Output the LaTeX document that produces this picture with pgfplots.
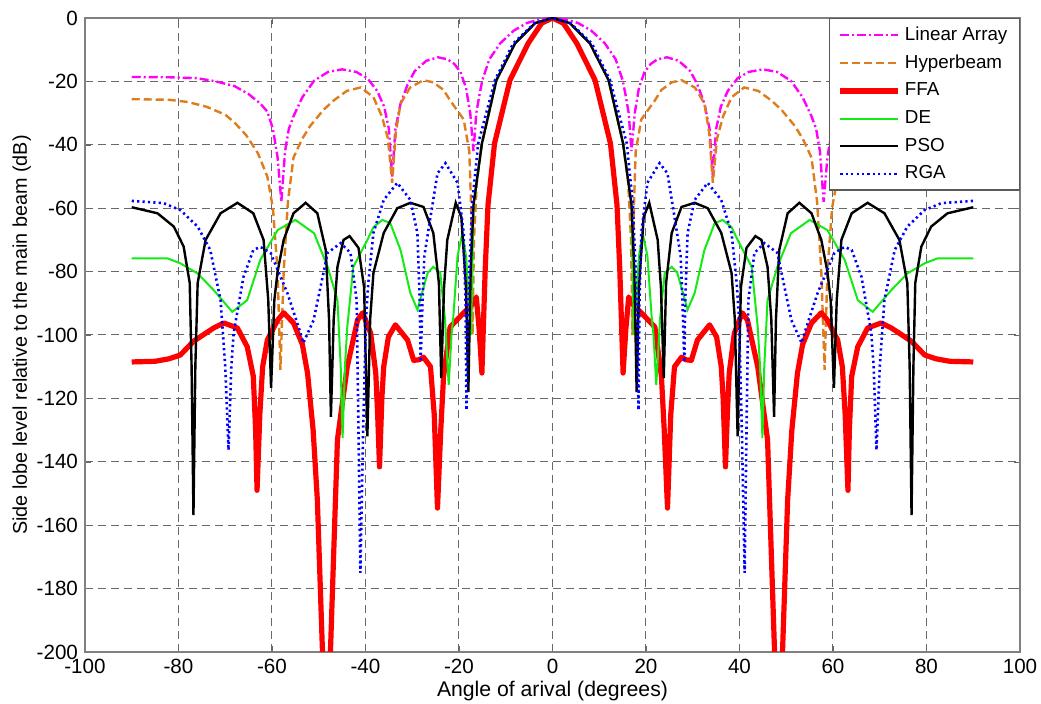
\documentclass[border=0pt]{standalone}
\usepackage{fontspec}
\setmainfont{Liberation Sans}
\usepackage{pgfplots}
\pgfplotsset{compat=1.18}
\definecolor{lamag}{RGB}{255,0,255}
\definecolor{hborange}{RGB}{222,125,30}
\definecolor{ffared}{RGB}{255,0,0}
\definecolor{degreen}{RGB}{20,235,20}
\definecolor{rgablue}{RGB}{0,0,255}
\definecolor{gridgray}{RGB}{105,105,105}

\begin{document}
\begin{tikzpicture}
\path[use as bounding box] (-42.5pt,-25.5pt) rectangle (478pt,326pt);
\begin{axis}[
  scale only axis,
  width=467.5pt, height=317pt,
  xmin=-100, xmax=100, ymin=-200, ymax=0,
  xtick={-100,-80,...,100},
  ytick={-200,-180,...,0},
  tick label style={font=\fontsize{10.3}{12}\selectfont},
  /pgf/number format/assume math mode=true,
  xlabel={Angle of arival (degrees)},
  ylabel={Side lobe level relative to the main beam (dB)},
  xlabel style={font=\fontsize{10.6}{12}\selectfont, yshift=3pt},
  ylabel style={font=\fontsize{9.9}{12}\selectfont, yshift=-4pt},
  grid=major,
  grid style={gridgray, line width=0.5pt, dash pattern=on 4pt off 2.5pt},
  axis line style={gray, line width=0.6pt},
  tick style={gridgray},
  major tick length=3pt,
  tick align=inside,
  legend cell align=left,
  legend style={at={(1,1)}, anchor=north east, draw=black!65, line width=0.6pt,
    fill=white, font=\fontsize{9.4}{11}\selectfont, row sep=1.8pt,
    inner xsep=4pt, inner ysep=2pt},
  legend image code/.code={\draw[#1] (0pt,0pt) -- (29pt,0pt);},
]
\addplot[lamag, line width=1.2pt, dash pattern=on 4.5pt off 1.5pt on 1pt off 1.5pt] coordinates {
(-90,-18.6) (-82,-18.7) (-76,-19) (-72,-20) (-68,-21.5) (-65,-24) (-62.5,-27) (-61,-29.5) (-59.8,-35) (-58.8,-44) (-58,-58) (-57.2,-42) (-56.4,-35) (-55.4,-31) (-53.5,-25) (-51,-19.8) (-48,-17) (-45,-16.2) (-42,-17) (-39.6,-19) (-37.5,-23) (-36,-28) (-35,-35) (-34.3,-50) (-33.6,-35) (-32.5,-27) (-31,-21) (-29.5,-16.8) (-27,-13.5) (-24.5,-12.4) (-22.5,-13) (-21,-14.5) (-19.7,-17) (-18.5,-22) (-17.6,-30) (-16.9,-42) (-16.3,-30) (-15.6,-24) (-15,-19.6) (-13.5,-13) (-11.2,-8) (-8.3,-4) (-5.5,-1.6) (-3,-0.5) (0,0)
(3,-0.5) (5.5,-1.6) (8.3,-4) (11.2,-8) (13.5,-13) (15,-19.6) (15.6,-24) (16.3,-30) (16.9,-42) (17.6,-30) (18.5,-22) (19.7,-17) (21,-14.5) (22.5,-13) (24.5,-12.4) (27,-13.5) (29.5,-16.8) (31,-21) (32.5,-27) (33.6,-35) (34.3,-50) (35,-35) (36,-28) (37.5,-23) (39.6,-19) (42,-17) (45,-16.2) (48,-17) (51,-19.8) (53.5,-25) (55.4,-31) (56.4,-35) (57.2,-42) (58,-58) (58.8,-44) (59.8,-35) (61,-29.5) (62.5,-27) (65,-24) (68,-21.5) (72,-20) (76,-19) (82,-18.7) (90,-18.6)
};
\addlegendentry{Linear Array}
\addplot[hborange, line width=1.2pt, dash pattern=on 4pt off 2pt] coordinates {
(-90,-25.6) (-82,-25.8) (-78,-26.5) (-74,-28) (-70,-30.5) (-68,-33) (-65.5,-37) (-63,-42.7) (-61,-50) (-59.8,-60) (-58.8,-80) (-58.2,-111) (-57.5,-80) (-56.6,-58) (-55.4,-44) (-53.5,-38) (-51.8,-34) (-49,-29) (-46.8,-26) (-44,-23) (-41,-21.9) (-38.3,-25) (-36.5,-31) (-35.2,-38) (-34.3,-52) (-33.5,-36) (-32.5,-27) (-30.5,-22) (-27.6,-19.6) (-25.5,-20.3) (-23.3,-22.7) (-21.9,-26) (-19,-32) (-17.8,-42) (-17.4,-60) (-17.1,-100) (-16.8,-70) (-16.2,-52) (-15.1,-39.6) (-12,-19.6) (-8,-8) (-3.7,-1.6) (0,0)
(3.7,-1.6) (8,-8) (12,-19.6) (15.1,-39.6) (16.2,-52) (16.8,-70) (17.1,-100) (17.4,-60) (17.8,-42) (19,-32) (21.9,-26) (23.3,-22.7) (25.5,-20.3) (27.6,-19.6) (30.5,-22) (32.5,-27) (33.5,-36) (34.3,-52) (35.2,-38) (36.5,-31) (38.3,-25) (41,-21.9) (44,-23) (46.8,-26) (49,-29) (51.8,-34) (53.5,-38) (55.4,-44) (56.6,-58) (57.5,-80) (58.2,-111) (58.8,-80) (59.8,-60) (61,-50) (63,-42.7) (65.5,-37) (68,-33) (70,-30.5) (74,-28) (78,-26.5) (82,-25.8) (90,-25.6)
};
\addlegendentry{Hyperbeam}
\addplot[ffared, line width=2.6pt, line join=round] coordinates {
(-90,-108.5) (-85,-108.3) (-82,-107.5) (-79.6,-106.3) (-76.8,-102) (-72.5,-97.8) (-70.3,-96.2) (-67.4,-97.8) (-65.3,-103.7) (-64,-113) (-63.5,-130) (-63.2,-149) (-62.6,-125) (-62,-110) (-61,-101.6) (-58.8,-95.3) (-57.5,-93) (-55.4,-96.2) (-53.5,-103) (-52.4,-112) (-51.2,-130) (-50.3,-152) (-49.2,-200) (-48.4,-240) (-47.5,-200) (-46,-133) (-43.9,-110) (-41.7,-95.3) (-40.6,-93) (-38.9,-99.4) (-37.8,-112) (-37.4,-125) (-37,-141.6) (-36.5,-120) (-36.1,-110) (-35.1,-100.6) (-33.6,-96.8) (-31,-101.6) (-29.7,-108) (-28.5,-107.8) (-27.6,-107) (-26.1,-110) (-25.3,-125) (-24.6,-154.6) (-23.9,-130) (-23.3,-113) (-21.9,-97.5) (-19,-93) (-17,-90) (-16.3,-88) (-15.7,-98) (-15.1,-112) (-14.4,-79.5) (-13.8,-59) (-12.4,-39.6) (-9.1,-19.6) (-5.2,-8) (-2.3,-1.6) (0,0)
(2.3,-1.6) (5.2,-8) (9.1,-19.6) (12.4,-39.6) (13.8,-59) (14.4,-79.5) (15.1,-112) (15.7,-98) (16.3,-88) (17,-90) (19,-93) (21.9,-97.5) (23.3,-113) (23.9,-130) (24.6,-154.6) (25.3,-125) (26.1,-110) (27.6,-107) (28.5,-107.8) (29.7,-108) (31,-101.6) (33.6,-96.8) (35.1,-100.6) (36.1,-110) (36.5,-120) (37,-141.6) (37.4,-125) (37.8,-112) (38.9,-99.4) (40.6,-93) (41.7,-95.3) (43.9,-110) (46,-133) (47.5,-200) (48.4,-240) (49.2,-200) (50.3,-152) (51.2,-130) (52.4,-112) (53.5,-103) (55.4,-96.2) (57.5,-93) (58.8,-95.3) (61,-101.6) (62,-110) (62.6,-125) (63.2,-149) (63.5,-130) (64,-113) (65.3,-103.7) (67.4,-97.8) (70.3,-96.2) (72.5,-97.8) (76.8,-102) (79.6,-106.3) (82,-107.5) (85,-108.3) (90,-108.5)
};
\addlegendentry{FFA}
\addplot[degreen, line width=1pt] coordinates {
(-90,-75.8) (-82.4,-75.8) (-79.6,-77.4) (-75.9,-80.6) (-72.5,-85.8) (-68.5,-92.7) (-65.3,-89) (-62.5,-76.3) (-58.8,-66.9) (-55,-63.7) (-51,-67.9) (-48.1,-78.5) (-46,-89) (-45.3,-110) (-44.9,-132.5) (-44.4,-110) (-43.9,-97.5) (-42.6,-78.5) (-39.6,-70) (-38.3,-66) (-36.4,-63.7) (-34.7,-64.7) (-32.5,-73.2) (-30.4,-86.8) (-28.9,-92) (-26.7,-80.4) (-25.5,-78.5) (-24,-80.4) (-23,-95) (-22.2,-115.8) (-21.6,-100) (-21.2,-94) (-20.3,-75) (-19.3,-68) (-18.5,-75) (-17.4,-100) (-16.9,-59) (-15.1,-39.6) (-12,-19.6) (-8,-8) (-3.7,-1.6) (0,0)
(3.7,-1.6) (8,-8) (12,-19.6) (15.1,-39.6) (16.9,-59) (17.4,-100) (18.5,-75) (19.3,-68) (20.3,-75) (21.2,-94) (21.6,-100) (22.2,-115.8) (23,-95) (24,-80.4) (25.5,-78.5) (26.7,-80.4) (28.9,-92) (30.4,-86.8) (32.5,-73.2) (34.7,-64.7) (36.4,-63.7) (38.3,-66) (39.6,-70) (42.6,-78.5) (43.9,-97.5) (44.4,-110) (44.9,-132.5) (45.3,-110) (46,-89) (48.1,-78.5) (51,-67.9) (55,-63.7) (58.8,-66.9) (62.5,-76.3) (65.3,-89) (68.5,-92.7) (72.5,-85.8) (75.9,-80.6) (79.6,-77.4) (82.4,-75.8) (90,-75.8)
};
\addlegendentry{DE}
\addplot[black, line width=1.2pt] coordinates {
(-90,-59.7) (-84.5,-61.6) (-81,-65.8) (-78.9,-72.1) (-77.6,-83.6) (-77.2,-110) (-76.8,-156.8) (-76.4,-110) (-75.9,-83.6) (-74.2,-70) (-71,-61.6) (-67.4,-58.3) (-64,-61.6) (-61.8,-70) (-60.8,-89) (-60.2,-116.7) (-59.5,-89) (-58.8,-80) (-57.5,-70) (-55.4,-61.6) (-52.8,-58.3) (-50.3,-61.6) (-48.5,-73.2) (-47.8,-95) (-47.4,-125.8) (-46.8,-95) (-46,-78.5) (-44.7,-70) (-43.4,-68.8) (-41.5,-72.5) (-40.3,-85) (-39.6,-132) (-39,-95) (-38.3,-80.4) (-36.1,-67.8) (-33.2,-60) (-30.4,-58.3) (-27.6,-59.6) (-25.5,-67.8) (-24.3,-83.6) (-23.8,-113.6) (-23.2,-85) (-22.5,-70) (-20.7,-58.3) (-19.5,-62.8) (-18.5,-85) (-18,-118) (-17.5,-79.5) (-16.9,-59) (-15.1,-39.6) (-12,-19.6) (-8,-8) (-3.7,-1.6) (0,0)
(3.7,-1.6) (8,-8) (12,-19.6) (15.1,-39.6) (16.9,-59) (17.5,-79.5) (18,-118) (18.5,-85) (19.5,-62.8) (20.7,-58.3) (22.5,-70) (23.2,-85) (23.8,-113.6) (24.3,-83.6) (25.5,-67.8) (27.6,-59.6) (30.4,-58.3) (33.2,-60) (36.1,-67.8) (38.3,-80.4) (39,-95) (39.6,-132) (40.3,-85) (41.5,-72.5) (43.4,-68.8) (44.7,-70) (46,-78.5) (46.8,-95) (47.4,-125.8) (47.8,-95) (48.5,-73.2) (50.3,-61.6) (52.8,-58.3) (55.4,-61.6) (57.5,-70) (58.8,-80) (59.5,-89) (60.2,-116.7) (60.8,-89) (61.8,-70) (64,-61.6) (67.4,-58.3) (71,-61.6) (74.2,-70) (75.9,-83.6) (76.4,-110) (76.8,-156.8) (77.2,-110) (77.6,-83.6) (78.9,-72.1) (81,-65.8) (84.5,-61.6) (90,-59.7)
};
\addlegendentry{PSO}
\addplot[rgablue, line width=1.3pt, dash pattern=on 1.1pt off 1.6pt] coordinates {
(-90,-57.7) (-83.2,-58.4) (-79.6,-60.6) (-75.9,-65.8) (-73.2,-73.2) (-71,-89) (-70,-110) (-69.3,-136.3) (-68.7,-110) (-68.2,-99.4) (-66.1,-81.7) (-64,-73.2) (-62.5,-72.2) (-60.3,-74.1) (-56.7,-86.8) (-53.9,-99.4) (-53.3,-102.5) (-51.1,-95.3) (-48.1,-74.1) (-45.3,-71) (-43.2,-74.1) (-41.9,-89) (-41.5,-130) (-41.1,-175) (-40.5,-130) (-39.9,-95) (-39.4,-83.6) (-38.3,-67.8) (-36.1,-57.4) (-33.2,-52) (-30.4,-57.4) (-28.9,-67.8) (-28.4,-89) (-28.2,-108.5) (-27.8,-89) (-27.4,-75) (-26.1,-62.8) (-24.6,-49) (-22.9,-45.8) (-20.3,-52) (-19,-67.8) (-18.6,-90) (-18.4,-123.7) (-18.1,-95) (-17.8,-80) (-17.2,-59) (-15.9,-39.6) (-12.3,-19.6) (-8.4,-8) (-3.8,-1.6) (0,0)
(3.8,-1.6) (8.4,-8) (12.3,-19.6) (15.9,-39.6) (17.2,-59) (17.8,-80) (18.1,-95) (18.4,-123.7) (18.6,-90) (19,-67.8) (20.3,-52) (22.9,-45.8) (24.6,-49) (26.1,-62.8) (27.4,-75) (27.8,-89) (28.2,-108.5) (28.4,-89) (28.9,-67.8) (30.4,-57.4) (33.2,-52) (36.1,-57.4) (38.3,-67.8) (39.4,-83.6) (39.9,-95) (40.5,-130) (41.1,-175) (41.5,-130) (41.9,-89) (43.2,-74.1) (45.3,-71) (48.1,-74.1) (51.1,-95.3) (53.3,-102.5) (53.9,-99.4) (56.7,-86.8) (60.3,-74.1) (62.5,-72.2) (64,-73.2) (66.1,-81.7) (68.2,-99.4) (68.7,-110) (69.3,-136.3) (70,-110) (71,-89) (73.2,-73.2) (75.9,-65.8) (79.6,-60.6) (83.2,-58.4) (90,-57.7)
};
\addlegendentry{RGA}
\end{axis}
\end{tikzpicture}
\end{document}
